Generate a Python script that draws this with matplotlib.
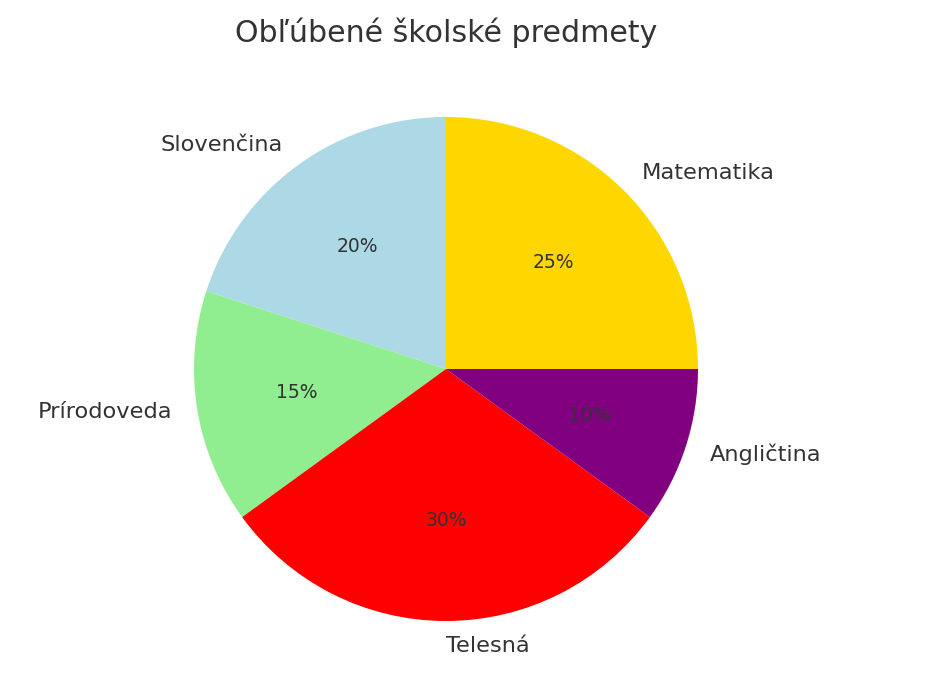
import matplotlib
matplotlib.use("Agg")
from matplotlib import pyplot as plt

# data
subjects = ['Matematika', 'Slovenčina', 'Prírodoveda', 'Telesná', 'Angličtina']
shares = [25, 20, 15, 30, 10]
colors = ['gold', 'lightblue', 'lightgreen', 'red', 'purple']

text_color = '#333333'

fig = plt.figure(figsize=(9.52, 7), dpi=100)
# pie axes: 630 px square, centred at (446, 331) from bottom-left
ax = fig.add_axes([131 / 952, 16 / 700, 630 / 952, 630 / 700])

wedges, texts, autotexts = ax.pie(shares, labels=subjects, colors=colors,
                                  autopct='%1.0f%%',
                                  textprops={'color': text_color, 'fontsize': 16.2})
for t in autotexts:
    t.set_fontsize(13.5)
ax.set_aspect('equal')

fig.text(446 / 952, 1 - 33 / 700, 'Obľúbené školské predmety',
         ha='center', va='center', fontsize=21.6, color=text_color)

fig.savefig('out.png', dpi=100)
